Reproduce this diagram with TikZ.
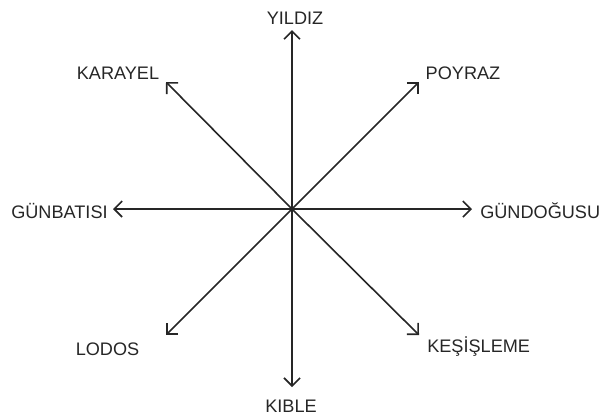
\documentclass[tikz,border=0pt]{standalone}
\usepackage{fontspec}
\setmainfont{Liberation Sans}
\usetikzlibrary{arrows.meta}
\definecolor{inkgray}{HTML}{262626}

\begin{document}
\begin{tikzpicture}[x=0.75pt, y=-0.75pt,
  >={Straight Barb[length=6pt, width=12pt, line width=1.2pt]},
  windarrow/.style={inkgray, line width=1.2pt, ->},
  windlabel/.style={text=inkgray, font=\fontsize{13.6}{15}\selectfont, inner sep=0pt}]

% Frame
\useasboundingbox (0,0) rectangle (602,419);

% Centre of the rose
\coordinate (o) at (292,209);

% Arrow tips
\coordinate (n)  at (292,30);
\coordinate (s)  at (292,387);
\coordinate (w)  at (113,209);
\coordinate (e)  at (472,209);
\coordinate (ne) at (419,82);
\coordinate (nw) at (166,82);
\coordinate (sw) at (166,335);
\coordinate (se) at (419,335);

% --- Arrows ---
\foreach \tip in {n,s,w,e,ne,nw,sw,se}
  \draw[windarrow] (o) -- (\tip);

% --- Wind names ---
\node[windlabel, anchor=base] (yildiz) at (295,24) {YILDIZ};
\node[windlabel, anchor=base] (kible) at (291,412) {KIBLE};
\node[windlabel, anchor=base west] (gunbatisi) at (11,218) {GÜNBATISI};
\node[windlabel, anchor=base west] (gundogusu) at (480,218) {GÜNDOĞUSU};
\node[windlabel, anchor=base] (karayel) at (118,79) {KARAYEL};
\node[windlabel, anchor=base] (poyraz) at (463,79) {POYRAZ};
\node[windlabel, anchor=base] (lodos) at (107.5,355) {LODOS};
\node[windlabel, anchor=base west] (kesisleme) at (427,352) {KEŞİŞLEME};

\end{tikzpicture}
\end{document}
